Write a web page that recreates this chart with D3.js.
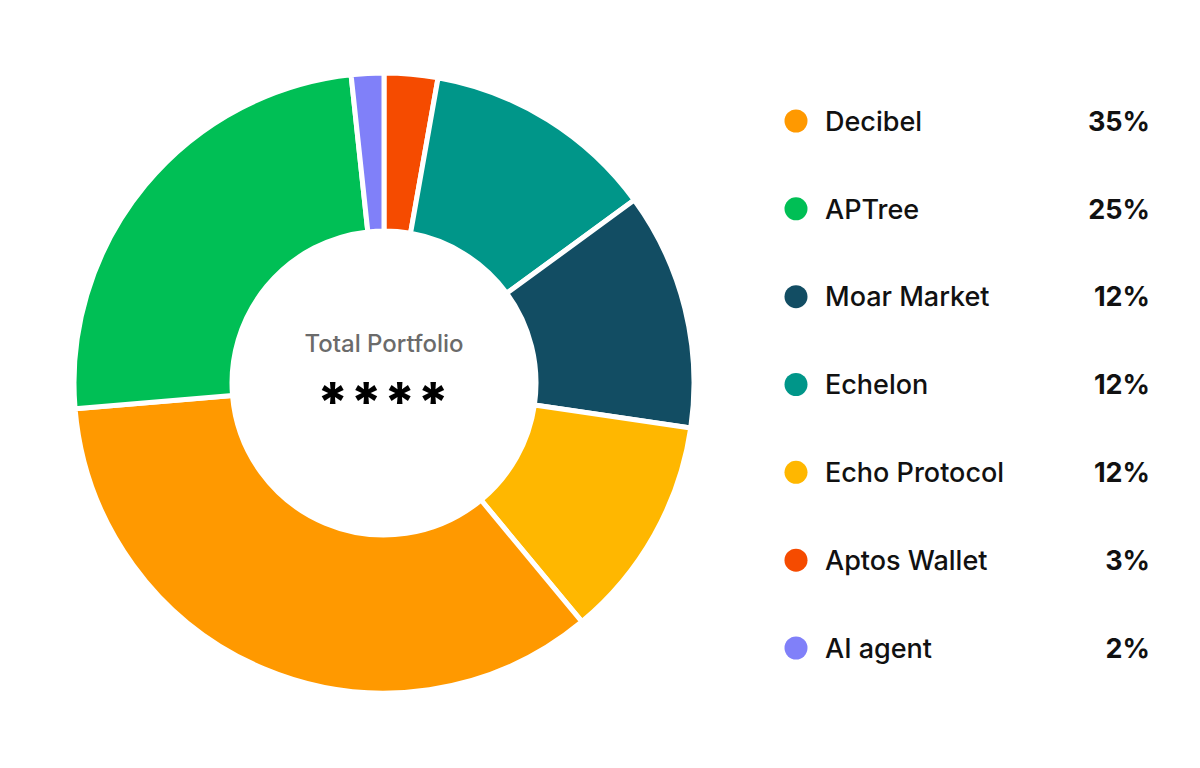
<!DOCTYPE html>
<html>
<head>
<meta charset="utf-8">
<script src="https://cdn.jsdelivr.net/npm/d3@7"></script>
<style>
  html, body { margin: 0; padding: 0; background: #ffffff; }
  svg { display: block; font-family: Inter, "Noto Sans", sans-serif; }
</style>
</head>
<body>
<svg id="chart" width="1200" height="768"></svg>
<script>
// Legend order
const categories = ["Decibel", "APTree", "Moar Market", "Echelon", "Echo Protocol", "Aptos Wallet", "AI agent"];
const shares     = [34.8, 24.7, 12.4, 12.2, 11.7, 2.8, 1.7];
const colors     = ["#FF9900", "#00BF55", "#124D63", "#009689", "#FFB700", "#F54B00", "#8080F9"];
// Order of slices around the ring, clockwise from 12 o'clock
const ringOrder  = ["Aptos Wallet", "Echelon", "Moar Market", "Echo Protocol", "Decibel", "APTree", "AI agent"];
const centerTitle = "Total Portfolio";
const centerValue = "****";

const rows = categories.map((c, i) => ({ name: c, value: shares[i], color: colors[i] }));
const byName = new Map(rows.map(r => [r.name, r]));
const ringData = ringOrder.map(n => byName.get(n));

const svg = d3.select("#chart");
const cx = 384, cy = 383;

const pie = d3.pie().sort(null).value(d => d.value).startAngle(0).endAngle(2 * Math.PI);
const arc = d3.arc().innerRadius(152).outerRadius(310);

const g = svg.append("g").attr("transform", `translate(${cx},${cy})`);
g.selectAll("path")
  .data(pie(ringData))
  .join("path")
  .attr("d", arc)
  .attr("fill", d => d.data.color)
  .attr("stroke", "#ffffff")
  .attr("stroke-width", 5)
  .attr("stroke-linejoin", "round");

g.append("text")
  .attr("x", 0).attr("y", -31)
  .attr("text-anchor", "middle")
  .attr("font-size", 24)
  .attr("font-weight", 500)
  .attr("fill", "#6b6b6b")
  .text(centerTitle);

g.append("text")
  .attr("x", 0).attr("y", 38)
  .attr("text-anchor", "middle")
  .attr("font-size", 54)
  .attr("font-weight", 800)
  .attr("letter-spacing", 2)
  .attr("fill", "#000000")
  .text(centerValue);

// Legend
const y = d3.scalePoint().domain(categories).range([121, 648]);
const leg = svg.append("g");
const item = leg.selectAll("g").data(rows).join("g")
  .attr("transform", d => `translate(0,${y(d.name)})`);
item.append("circle").attr("cx", 796).attr("cy", 0).attr("r", 11.5).attr("fill", d => d.color);
item.append("text")
  .attr("x", 825).attr("y", 0).attr("dy", "0.36em")
  .attr("font-size", 27).attr("font-weight", 500).attr("fill", "#111111")
  .text(d => d.name);
item.append("text")
  .attr("x", 1150).attr("y", 0).attr("dy", "0.36em")
  .attr("text-anchor", "end")
  .attr("font-size", 27).attr("font-weight", 700).attr("fill", "#111111")
  .text(d => Math.round(d.value) + "%");
</script>
</body>
</html>
